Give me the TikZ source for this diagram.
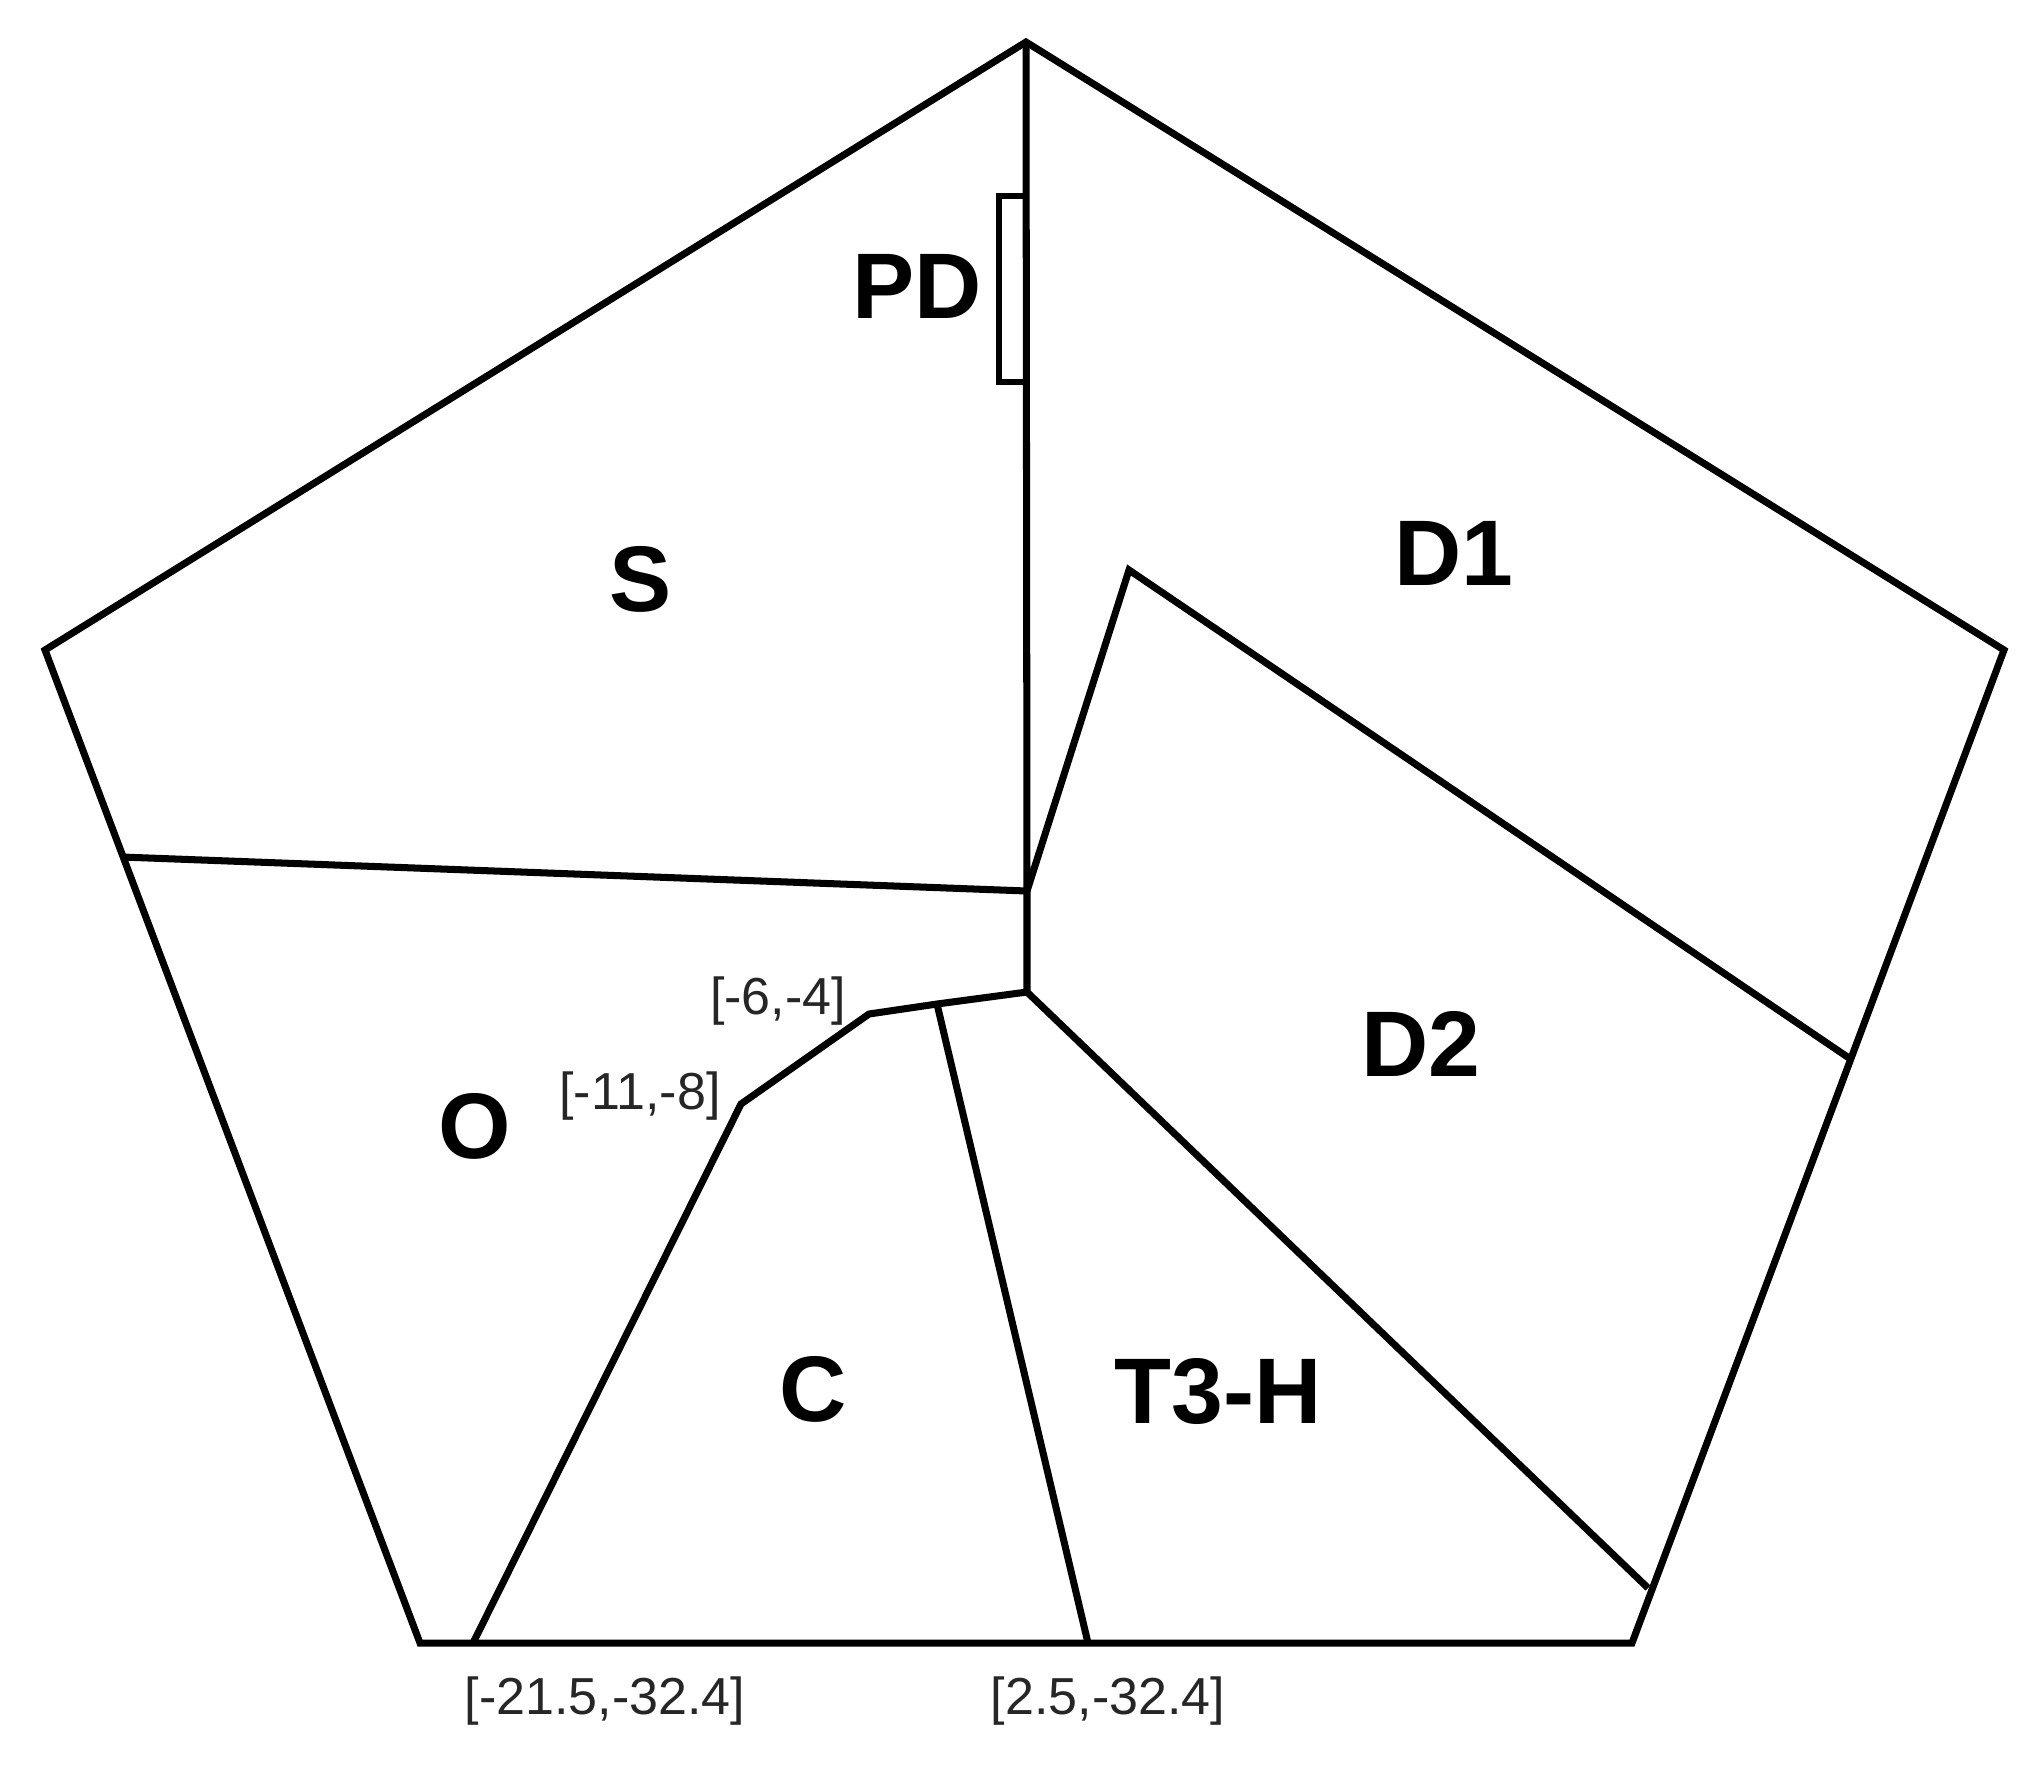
\documentclass[tikz,border=0pt]{standalone}
\usepackage{fontspec}
\setmainfont{Liberation Sans}
\begin{document}
\begin{tikzpicture}[
	x=0.01cm,y=-0.01cm,
	wall/.style={line width=2pt,line join=miter},
	region/.style={font=\fontsize{26.5}{30}\selectfont\bfseries},
	coord/.style={font=\fontsize{14.8}{17}\selectfont,text=black!85}
]
\useasboundingbox (0,0) rectangle (2039,1772);
% outer corners
\coordinate (top) at (1026,42);
\coordinate (left) at (45,650);
\coordinate (right) at (2004,650);
\coordinate (botleft) at (420,1643);
\coordinate (botright) at (1632,1643);
% inner points
\coordinate (mid) at (1027,891);
\coordinate (low) at (1027,992);
\coordinate (osl) at (122,857);
\coordinate (dtop) at (1129,570);
\coordinate (dright) at (1849,1058);
\coordinate (tright) at (1648,1588);
\coordinate (cj) at (937,1004);
\coordinate (p6) at (869,1014);
\coordinate (p11) at (741,1104);
\coordinate (cbot) at (473,1643);
\coordinate (tbot) at (1088,1643);
\draw [wall] (top) -- (right) -- (botright) -- (botleft) -- (left) -- cycle;
\draw [wall] (top) -- (mid) -- (low);
\draw [wall] (osl) -- (mid);
\draw [wall] (mid) -- (dtop) -- (dright);
\draw [wall] (low) -- (tright);
\draw [wall] (low) -- (cj) -- (p6) -- (p11) -- (cbot);
\draw [wall] (cj) -- (tbot);
% PD box
\draw [line width=1.6pt] (1027,196) -- (999,196) -- (999,382) -- (1027,382);
\node [region] (pd) at (917,286) {PD};
\node [region] (s) at (641,579) {S};
\node [region] (d1) at (1454,553) {D1};
\node [region] (d2) at (1421,1044) {D2};
\node [region] (o) at (475,1126) {O};
\node [region] (c) at (813,1389) {C};
\node [region] (t3h) at (1218,1391) {T3-H};
\node [coord] (l6) at (778,1001) {[-6,-4]};
\node [coord] (l11) at (640,1096) {[-11,-8]};
\node [coord] (l21) at (605,1701) {[-21.5,-32.4]};
\node [coord] (l25) at (1108,1701) {[2.5,-32.4]};
\end{tikzpicture}
\end{document}
